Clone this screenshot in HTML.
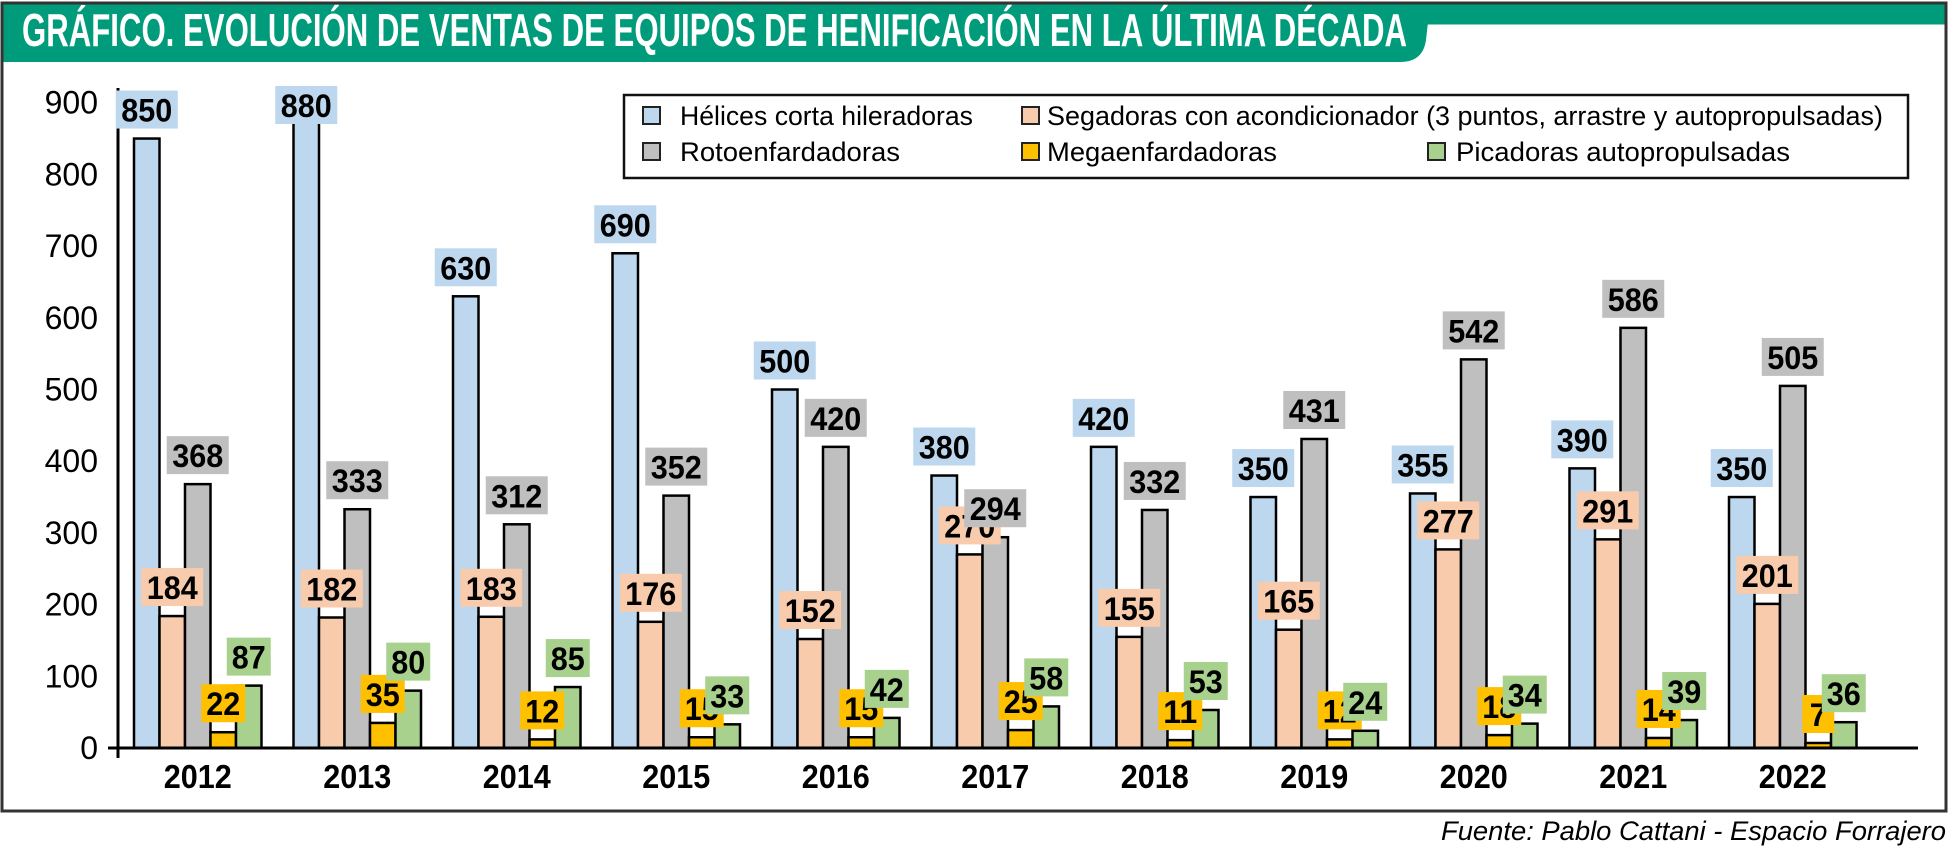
<!DOCTYPE html>
<html><head><meta charset="utf-8">
<style>
html,body{margin:0;padding:0;background:#fff;}
svg{display:block;font-family:"Liberation Sans",sans-serif;}
</style></head>
<body>
<svg id="chart" width="1949" height="849" viewBox="0 0 1949 849" xmlns="http://www.w3.org/2000/svg">
  <rect x="2" y="3" width="1944" height="808" fill="#fff" stroke="#333" stroke-width="3"/>
  <rect x="3.5" y="4.5" width="1941" height="20" fill="#009b7a"/>
  <path d="M3.5,4.5 H1430 L1426,40 Q1423,62 1400,62 H3.5 Z" fill="#009b7a"/>
  <text x="22" y="46" font-size="46" font-weight="bold" fill="#fff" textLength="1385" lengthAdjust="spacingAndGlyphs">GRÁFICO. EVOLUCIÓN DE VENTAS DE EQUIPOS DE HENIFICACIÓN EN LA ÚLTIMA DÉCADA</text>
  <g id="legend">
    <rect x="624" y="95" width="1284" height="83" fill="#fff" stroke="#111" stroke-width="2.5"/>
    <g><rect x="643" y="107" width="17" height="17" fill="#bdd7ee" stroke="#222" stroke-width="2"/><text x="680" y="125" font-size="27" textLength="293" lengthAdjust="spacingAndGlyphs">Hélices corta hileradoras</text></g>
    <g><rect x="1022" y="107" width="17" height="17" fill="#f8cbad" stroke="#222" stroke-width="2"/><text x="1047" y="125" font-size="27" textLength="836" lengthAdjust="spacingAndGlyphs">Segadoras con acondicionador (3 puntos, arrastre y autopropulsadas)</text></g>
    <g><rect x="643" y="143" width="17" height="17" fill="#bfbfbf" stroke="#222" stroke-width="2"/><text x="680" y="161" font-size="27" textLength="220" lengthAdjust="spacingAndGlyphs">Rotoenfardadoras</text></g>
    <g><rect x="1022" y="143" width="17" height="17" fill="#ffc000" stroke="#222" stroke-width="2"/><text x="1047" y="161" font-size="27" textLength="230" lengthAdjust="spacingAndGlyphs">Megaenfardadoras</text></g>
    <g><rect x="1428" y="143" width="17" height="17" fill="#a9d18e" stroke="#222" stroke-width="2"/><text x="1456" y="161" font-size="27" textLength="334" lengthAdjust="spacingAndGlyphs">Picadoras autopropulsadas</text></g>
  </g>
  <g id="marks"></g>
  <text x="1946" y="840" font-size="27" font-style="italic" text-anchor="end" textLength="505" lengthAdjust="spacingAndGlyphs">Fuente: Pablo Cattani - Espacio Forrajero</text>
</svg>
<script>
const years = ["2012","2013","2014","2015","2016","2017","2018","2019","2020","2021","2022"];
const helices = [850,880,630,690,500,380,420,350,355,390,350];
const segadoras = [184,182,183,176,152,270,155,165,277,291,201];
const roto = [368,333,312,352,420,294,332,431,542,586,505];
const mega = [22,35,12,15,15,25,11,12,18,14,7];
const picadoras = [87,80,85,33,42,58,53,24,34,39,36];
const yTicks = [0,100,200,300,400,500,600,700,800,900];

const seriesList = [helices, segadoras, roto, mega, picadoras];
const seriesNames = ["helices","segadoras","roto","mega","picadoras"];
const colors = ["#bdd7ee","#f8cbad","#bfbfbf","#ffc000","#a9d18e"];

const NS = "http://www.w3.org/2000/svg";
const X0 = 118, CAT = 159.5, BW = 25.5, Y0 = 748, PER = 0.717;
function yScale(v){ return Y0 - v*PER; }
function xBar(ci, si){ return X0 + ci*CAT + 16 + si*BW; }
const g = document.getElementById("marks");
function mk(tag, attrs, parent){
  const e = document.createElementNS(NS, tag);
  for (const k in attrs) e.setAttribute(k, attrs[k]);
  (parent||g).appendChild(e); return e;
}

// y axis
const ya = mk("line",{x1:X0,y1:88,x2:X0,y2:758,stroke:"#000","stroke-width":3});


yTicks.forEach(t=>{
  const tl = mk("text",{x:98,y:yScale(t)+11,"font-size":32,"text-anchor":"end"});
  tl.textContent = t;
  
  
});

// bars
years.forEach((yr,ci)=>{
  seriesList.forEach((arr,si)=>{
    const v = arr[ci], x = xBar(ci,si), y = yScale(v);
    const b = mk("rect",{x:x,y:y,width:BW,height:Y0-y,fill:colors[si],stroke:"#000","stroke-width":2.5});
    
    
  });
});

// x axis
const xa = mk("line",{x1:108,y1:Y0,x2:1918,y2:Y0,stroke:"#000","stroke-width":3});


years.forEach((yr,ci)=>{
  const t = mk("text",{x:X0+ci*CAT+CAT/2,y:788,"font-size":33,"font-weight":"bold","text-anchor":"middle",textLength:68,lengthAdjust:"spacingAndGlyphs"});
  t.textContent = yr;
  
  
});

// value labels
years.forEach((yr,ci)=>{
  seriesList.forEach((arr,si)=>{
    const v = arr[ci];
    const s = String(v);
    const w = s.length===3?62:(s.length===2?44:32);
    const h = 38;
    const cx = xBar(ci,si)+BW/2;
    let bottom = yScale(v) - 10;
    if (bottom - h < 86) bottom = 86 + h;
    const lg = mk("g",{});
    
    
    mk("rect",{x:cx-w/2,y:bottom-h,width:w,height:h,fill:colors[si]},lg);
    const t = mk("text",{x:cx,y:bottom-7,"font-size":32,"font-weight":"bold","text-anchor":"middle",textLength:s.length*17,lengthAdjust:"spacingAndGlyphs"},lg);
    t.textContent = s;
  });
});
</script>
</body></html>
